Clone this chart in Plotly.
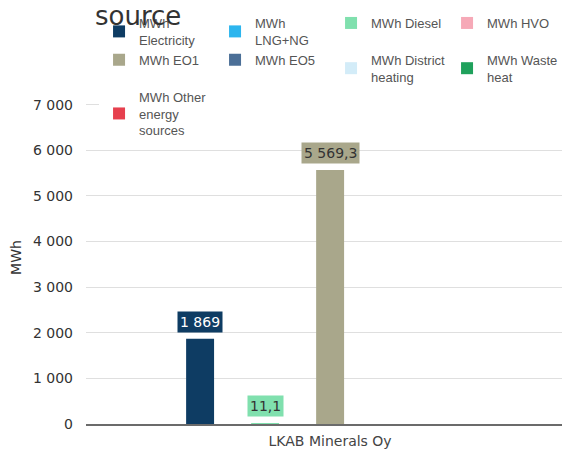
import plotly.graph_objects as go

# --- data ---
company = "LKAB Minerals Oy"
series = [
    "MWh<br>Electricity", "MWh<br>LNG+NG", "MWh Diesel", "MWh HVO",
    "MWh EO1", "MWh EO5", "MWh District<br>heating", "MWh Waste<br>heat",
    "MWh Other<br>energy<br>sources",
]
values = [1869, 0, 11.1, 0, 5569.3, 0, 0, 0, 0]
colors = [
    "#0E3C63", "#2CB5EE", "#80E0AE", "#F6A9B7",
    "#A9A78B", "#4B6F97", "#D3ECF8", "#1FA15C", "#E6404E",
]
label_text = ["1 869", "", "11,1", "", "5 569,3", "", "", "", ""]
label_font = ["white", None, "#333333", None, "#333333", None, None, None, None]

FONT = "DejaVu Sans"
LEG_FONT = "Liberation Sans"

fig = go.Figure()

for i, name in enumerate(series):
    fig.add_trace(go.Bar(
        x=[i], y=[values[i]],
        name=name,
        marker=dict(color=colors[i], line=dict(width=0)),
        width=0.86,
        hoverinfo="skip",
    ))
    # value labels in a coloured box above the bar
    if label_text[i]:
        fig.add_annotation(
            x=i, y=values[i], xref="x", yref="y",
            text=label_text[i], showarrow=False,
            yanchor="bottom", yshift=6,
            bgcolor=colors[i], borderpad=2,
            font=dict(family=FONT, size=14, color=label_font[i]),
        )

# legend title drawn as text, like the original
fig.add_annotation(
    x=0.0145, y=1.225, xref="paper", yref="paper",
    text="source", showarrow=False, xanchor="left", yanchor="middle",
    font=dict(family=FONT, size=26, color="#333333"),
)

# the page adds an 8px body margin, so the figure is 8px smaller than the window
fig.update_layout(
    width=562, height=443,
    margin=dict(l=78, r=0, t=83, b=27, autoexpand=False),
    plot_bgcolor="white", paper_bgcolor="white",
    separators=", ",
    font=dict(family=FONT, size=13, color="#444444"),
    showlegend=True,
    legend=dict(
        orientation="h",
        xref="container", yref="container",
        x=0.162, y=1.0, xanchor="left", yanchor="top",
        entrywidth=71, entrywidthmode="pixels",
        font=dict(family=LEG_FONT, size=13, color="#555555"),
        tracegroupgap=0, itemclick=False,
    ),
    xaxis=dict(
        range=[-3.51, 11.38],
        tickvals=[4], ticktext=[company],
        showgrid=False, zeroline=False,
        showline=True, linecolor="#6b6b6b", linewidth=2,
        ticks="", ticklabelstandoff=3,
        tickfont=dict(family=FONT, size=14, color="#444444"),
        fixedrange=True,
    ),
    yaxis=dict(
        range=[0, 7300],
        tickvals=[0, 1000, 2000, 3000, 4000, 5000, 6000, 7000],
        tickformat=",d",
        showgrid=True, gridcolor="#dfdfdf", gridwidth=1,
        zeroline=False, ticks="", ticklabelstandoff=12,
        tickfont=dict(family=FONT, size=14, color="#333333"),
        title=dict(text="MWh", font=dict(family=FONT, size=14, color="#333333"), standoff=12),
        fixedrange=True,
    ),
)

fig.write_html("out.html")
